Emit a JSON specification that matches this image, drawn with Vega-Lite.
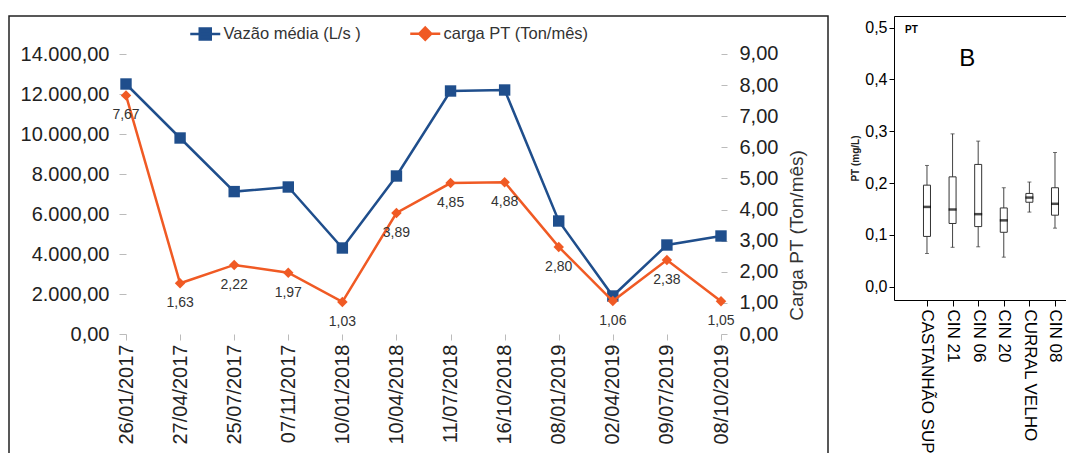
{
  "$schema": "https://vega.github.io/schema/vega-lite/v6.json",
  "padding": {"left": 8, "top": 15, "right": 0, "bottom": 0},
  "config": {
    "locale": {"number": {"decimal": ",", "thousands": ".", "grouping": [3], "currency": ["R$", ""]}},
    "font": "Liberation Sans",
    "axis": {"grid": false},
    "view": {"stroke": "#000"}
  },
  "datasets": {
    "serie": [
      {"data": "26/01/2017", "serie": "Vazão média (L/s )", "valor": 12500},
      {"data": "27/04/2017", "serie": "Vazão média (L/s )", "valor": 9800},
      {"data": "25/07/2017", "serie": "Vazão média (L/s )", "valor": 7120},
      {"data": "07/11/2017", "serie": "Vazão média (L/s )", "valor": 7350},
      {"data": "10/01/2018", "serie": "Vazão média (L/s )", "valor": 4300},
      {"data": "10/04/2018", "serie": "Vazão média (L/s )", "valor": 7900},
      {"data": "11/07/2018", "serie": "Vazão média (L/s )", "valor": 12150},
      {"data": "16/10/2018", "serie": "Vazão média (L/s )", "valor": 12200},
      {"data": "08/01/2019", "serie": "Vazão média (L/s )", "valor": 5650},
      {"data": "02/04/2019", "serie": "Vazão média (L/s )", "valor": 1900},
      {"data": "09/07/2019", "serie": "Vazão média (L/s )", "valor": 4450},
      {"data": "08/10/2019", "serie": "Vazão média (L/s )", "valor": 4900},
      {"data": "26/01/2017", "serie": "carga PT (Ton/mês)", "valor": 7.67},
      {"data": "27/04/2017", "serie": "carga PT (Ton/mês)", "valor": 1.63},
      {"data": "25/07/2017", "serie": "carga PT (Ton/mês)", "valor": 2.22},
      {"data": "07/11/2017", "serie": "carga PT (Ton/mês)", "valor": 1.97},
      {"data": "10/01/2018", "serie": "carga PT (Ton/mês)", "valor": 1.03},
      {"data": "10/04/2018", "serie": "carga PT (Ton/mês)", "valor": 3.89},
      {"data": "11/07/2018", "serie": "carga PT (Ton/mês)", "valor": 4.85},
      {"data": "16/10/2018", "serie": "carga PT (Ton/mês)", "valor": 4.88},
      {"data": "08/01/2019", "serie": "carga PT (Ton/mês)", "valor": 2.80},
      {"data": "02/04/2019", "serie": "carga PT (Ton/mês)", "valor": 1.06},
      {"data": "09/07/2019", "serie": "carga PT (Ton/mês)", "valor": 2.38},
      {"data": "08/10/2019", "serie": "carga PT (Ton/mês)", "valor": 1.05}
    ],
    "caixas": [
      {"ponto": "CASTANHÃO SUP", "min": 0.064, "q1": 0.097, "mediana": 0.154, "q3": 0.196, "max": 0.234},
      {"ponto": "CIN 21", "min": 0.076, "q1": 0.122, "mediana": 0.149, "q3": 0.212, "max": 0.295},
      {"ponto": "CIN 06", "min": 0.077, "q1": 0.116, "mediana": 0.140, "q3": 0.236, "max": 0.281},
      {"ponto": "CIN 20", "min": 0.057, "q1": 0.105, "mediana": 0.128, "q3": 0.152, "max": 0.191},
      {"ponto": "CURRAL VELHO", "min": 0.144, "q1": 0.163, "mediana": 0.172, "q3": 0.180, "max": 0.202},
      {"ponto": "CIN 08", "min": 0.113, "q1": 0.138, "mediana": 0.160, "q3": 0.191, "max": 0.259}
    ]
  },
  "spacing": 21,
  "hconcat": [
    {
      "width": 819,
      "height": 438,
      "data": {"name": "serie"},
      "view": {"stroke": "#222", "strokeWidth": 1.5},
      "encoding": {
        "x": {
          "field": "data", "type": "ordinal",
          "scale": {"type": "point", "domain": ["26/01/2017", "27/04/2017", "25/07/2017", "07/11/2017", "10/01/2018", "10/04/2018", "11/07/2018", "16/10/2018", "08/01/2019", "02/04/2019", "09/07/2019", "08/10/2019"], "padding": 0, "range": [117, 712]},
          "axis": {"title": null, "labelAngle": -90, "labelAlign": "right", "labelBaseline": "middle", "labelFontSize": 20, "labelColor": "#222", "tickColor": "#bbb", "tickSize": 6, "domain": false, "offset": -120, "labelPadding": 4}
        }
      },
      "layer": [
        {
          "encoding": {
            "y": {"field": "valor", "type": "quantitative", "scale": {"domain": [-6000, 15900], "nice": false, "zero": false},
              "axis": {"title": null, "values": [0, 2000, 4000, 6000, 8000, 10000, 12000, 14000], "format": ",.2f", "offset": -117, "domain": false, "tickColor": "#bbb", "tickSize": 7, "labelFontSize": 20, "labelColor": "#222", "labelPadding": 10}}
          },
          "layer": [
            {"data": {"values": [{}]}, "mark": {"type": "rule", "color": "#c4c4c4", "strokeWidth": 1.5}, "encoding": {"x": {"datum": "26/01/2017"}, "y": {"datum": 0}, "y2": {"datum": 14000}}},
            {"data": {"values": [{}]}, "mark": {"type": "rule", "color": "#c4c4c4", "strokeWidth": 1.5}, "encoding": {"x": {"datum": "08/10/2019"}, "y": {"datum": 0}, "y2": {"datum": 14000}}},
            {"data": {"values": [{}]}, "mark": {"type": "rule", "color": "#c4c4c4", "strokeWidth": 1.5}, "encoding": {"x": {"datum": "26/01/2017"}, "x2": {"datum": "08/10/2019"}, "y": {"datum": 0}}},
            {"data": {"values": [{}]}, "mark": {"type": "rule", "color": "#d4d4d4", "strokeWidth": 1.5}, "encoding": {"x": {"datum": "26/01/2017"}, "x2": {"datum": "08/10/2019"}, "y": {"datum": 14000}}},
            {
              "transform": [{"filter": "datum.serie === 'Vazão média (L/s )'"}],
              "mark": {"type": "line", "strokeWidth": 2.5},
              "encoding": {
                "color": {"field": "serie", "type": "nominal",
                  "scale": {"domain": ["Vazão média (L/s )", "carga PT (Ton/mês)"], "range": ["#1f4e8c", "#f05a24"]},
                  "legend": {"title": null, "orient": "none", "legendX": 188, "legendY": 9, "direction": "horizontal", "labelFontSize": 16.5, "labelColor": "#333", "symbolSize": 100, "symbolStrokeWidth": 2.5, "labelOffset": 10, "columnPadding": 44,
                    "encode": {"symbols": {"update": {
                      "shape": [{"test": "datum.value === 'Vazão média (L/s )'", "value": "M-3,0H3M-1.1,-1.1H1.1V1.1H-1.1Z"}, {"value": "M-3,0H3M0,-1.2L1.2,0L0,1.2L-1.2,0Z"}],
                      "fill": [{"test": "datum.value === 'Vazão média (L/s )'", "value": "#1f4e8c"}, {"value": "#f05a24"}]
                    }}}}
                }
              }
            },
            {
              "transform": [{"filter": "datum.serie === 'Vazão média (L/s )'"}],
              "mark": {"type": "point", "shape": "square", "filled": true, "size": 130, "color": "#1f4e8c", "opacity": 1}
            },
            {"data": {"values": [{}]}, "mark": {"type": "text", "text": "A", "fontSize": 26, "color": "#000", "dx": 37}, "encoding": {"x": {"datum": "08/01/2019"}, "y": {"datum": 12250}}}
          ]
        },
        {
          "transform": [{"filter": "datum.serie === 'carga PT (Ton/mês)'"}],
          "encoding": {
            "y": {"field": "valor", "type": "quantitative", "scale": {"domain": [-3.857, 10.2214], "nice": false, "zero": false},
              "axis": {"orient": "right", "title": "Carga PT (Ton/mês)", "titleAngle": -90, "titleBaseline": "top", "titleFontSize": 19, "titleFontWeight": "normal", "titleColor": "#333", "values": [0, 1, 2, 3, 4, 5, 6, 7, 8, 9], "format": ".2f", "offset": -107, "domain": false, "tickColor": "#bbb", "tickSize": 6, "labelFontSize": 20, "labelColor": "#222", "labelPadding": 12, "titlePadding": 10}}
          },
          "layer": [
            {
              "mark": {"type": "line", "strokeWidth": 2.5},
              "encoding": {"color": {"field": "serie", "type": "nominal"}}
            },
            {
              "mark": {"type": "point", "shape": "diamond", "filled": true, "size": 110, "color": "#f05a24", "opacity": 1}
            },
            {
              "mark": {"type": "text", "fontSize": 14, "color": "#333", "dy": 20},
              "encoding": {"text": {"field": "valor", "type": "quantitative", "format": ".2f"}}
            }
          ]
        }
      ],
      "resolve": {"scale": {"y": "independent"}}
    },
    {
      "width": 174,
      "height": 284,
      "data": {"name": "caixas"},
      "view": {"stroke": "#000", "strokeWidth": 1},
      "encoding": {
        "x": {
          "field": "ponto", "type": "ordinal",
          "scale": {"type": "point", "domain": ["CASTANHÃO SUP", "CIN 21", "CIN 06", "CIN 20", "CURRAL VELHO", "CIN 08"], "padding": 0.898, "align": 0.717},
          "axis": {"title": null, "labelAngle": 90, "labelAlign": "left", "labelBaseline": "middle", "labelFontSize": 17, "labelColor": "#000", "tickColor": "#000", "tickSize": 6, "domain": false, "labelPadding": 3}
        }
      },
      "layer": [
        {
          "mark": {"type": "rule", "color": "#444"},
          "encoding": {
            "y": {"field": "min", "type": "quantitative", "scale": {"domain": [-0.0257, 0.5225], "nice": false, "zero": false},
              "axis": {"title": "PT (mg/L)", "titleFontSize": 10, "titleFontWeight": "bold", "titleColor": "#222", "values": [0, 0.1, 0.2, 0.3, 0.4, 0.5], "format": ".1f", "labelFontSize": 16, "labelColor": "#000", "tickSize": 5, "tickColor": "#000", "domain": false, "labelPadding": 2, "titlePadding": 4}},
            "y2": {"field": "max"}
          }
        },
        {
          "mark": {"type": "bar", "width": 7, "fill": "#fff", "stroke": "#333", "strokeWidth": 1},
          "encoding": {"y": {"field": "q1", "type": "quantitative"}, "y2": {"field": "q3"}}
        },
        {
          "mark": {"type": "tick", "color": "#000", "thickness": 2.5, "size": 8},
          "encoding": {"y": {"field": "mediana", "type": "quantitative"}}
        },
        {
          "mark": {"type": "tick", "color": "#333", "thickness": 1, "size": 4},
          "encoding": {"y": {"field": "min", "type": "quantitative"}}
        },
        {
          "mark": {"type": "tick", "color": "#333", "thickness": 1, "size": 4},
          "encoding": {"y": {"field": "max", "type": "quantitative"}}
        },
        {"data": {"values": [{}]}, "mark": {"type": "text", "text": "PT", "fontSize": 10, "fontWeight": "bold", "color": "#000", "align": "left", "dx": -22}, "encoding": {"x": {"datum": "CASTANHÃO SUP"}, "y": {"datum": 0.496}}},
        {"data": {"values": [{}]}, "mark": {"type": "text", "text": "B", "fontSize": 24, "color": "#000", "dx": -11}, "encoding": {"x": {"datum": "CIN 06"}, "y": {"datum": 0.44}}}
      ]
    }
  ]
}
